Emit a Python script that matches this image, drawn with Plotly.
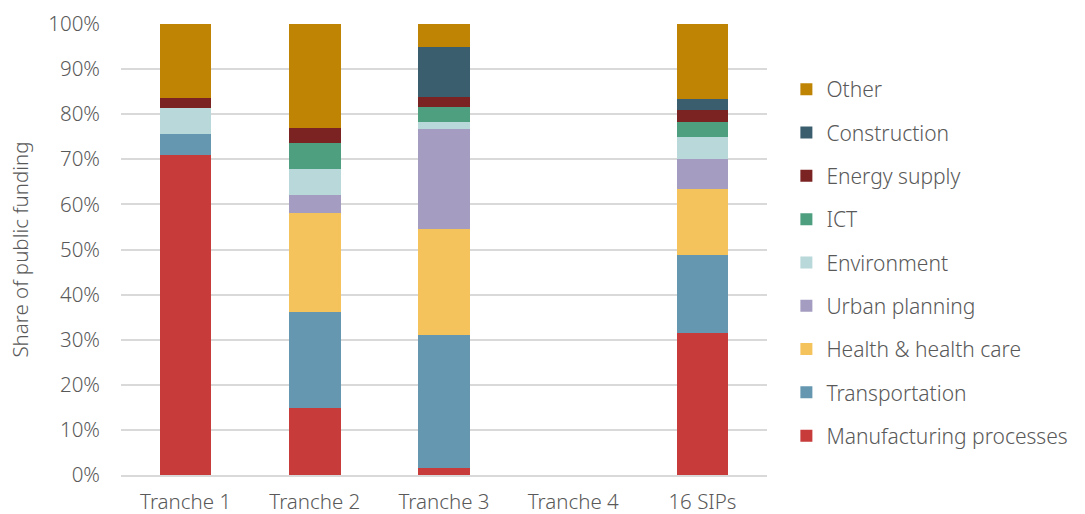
import plotly.graph_objects as go

categories = ["Tranche 1", "Tranche 2", "Tranche 3", "Tranche 4", "16 SIPs"]

# Share of public funding per sector (%), bottom of the stack first
sectors = [
    "Manufacturing processes",
    "Transportation",
    "Health & health care",
    "Urban planning",
    "Environment",
    "ICT",
    "Energy supply",
    "Construction",
    "Other",
]
manufacturing = [70.9, 14.9, 1.5, None, 31.4]
transportation = [4.7, 21.3, 29.5, None, 17.4]
health = [0.0, 21.8, 23.5, None, 14.6]
urban_planning = [0.0, 4.1, 22.2, None, 6.7]
environment = [5.8, 5.7, 1.5, None, 4.8]
ict = [0.0, 5.9, 3.3, None, 3.3]
energy_supply = [2.3, 3.2, 2.4, None, 2.7]
construction = [0.0, 0.0, 10.9, None, 2.5]
other = [16.3, 23.1, 5.2, None, 16.6]

series = [manufacturing, transportation, health, urban_planning, environment,
          ict, energy_supply, construction, other]
colors = ["#C73B3B", "#6597B0", "#F5C35C", "#A59DC1", "#B8D8DA",
          "#4E9E80", "#7B2323", "#3A5E6E", "#C08405"]

FONT = "Noto Sans"
GREY = "#595959"
TXT = dict(family=FONT, size=20.5, color=GREY, weight=300)

fig = go.Figure()
n = len(sectors)
for i, (name, vals, col) in enumerate(zip(sectors, series, colors)):
    fig.add_trace(go.Bar(
        x=categories,
        y=vals,
        name=name,
        legendgroup=name,
        legendrank=n - i,  # top of the stack listed first
        marker=dict(color=col, line=dict(width=0)),
        width=0.4,
    ))

fig.update_layout(
    barmode="stack",
    width=1085,
    height=514,
    margin=dict(l=121, r=316, t=24, b=39),
    paper_bgcolor="white",
    plot_bgcolor="white",
    font=TXT,
    legend=dict(
        traceorder="grouped",
        tracegroupgap=13,
        x=1.03,
        xanchor="left",
        y=0.471,
        yanchor="middle",
        font=dict(family=FONT, size=21, color=GREY, weight=300),
        bgcolor="rgba(0,0,0,0)",
    ),
    xaxis=dict(
        automargin=False,
        showgrid=False,
        showline=True,
        linecolor="#D9D9D9",
        linewidth=1.5,
        ticks="",
        tickfont=TXT,
        ticklabelstandoff=8,
    ),
    yaxis=dict(
        automargin=False,
        range=[0, 100],
        tickvals=[0, 10, 20, 30, 40, 50, 60, 70, 80, 90, 100],
        ticktext=["0%", "10%", "20%", "30%", "40%", "50%", "60%",
                  "70%", "80%", "90%", "100%"],
        showgrid=True,
        gridcolor="#D9D9D9",
        gridwidth=1.5,
        zeroline=False,
        ticks="",
        ticklabelstandoff=20,
        tickfont=TXT,
        title=dict(text="Share of public funding", font=TXT, standoff=14),
    ),
)

fig.write_html("out.html")
